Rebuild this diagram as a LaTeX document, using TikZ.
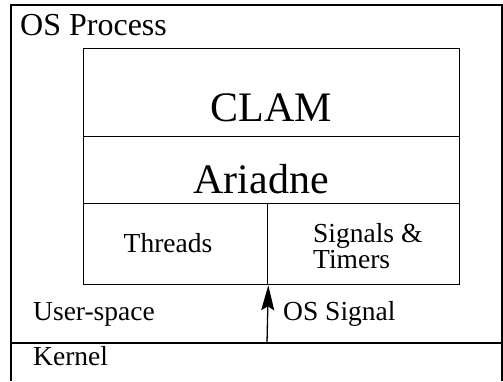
\documentclass[tikz,border=0pt]{standalone}
\usepackage{fontspec}
\setmainfont{Liberation Serif}
\usetikzlibrary{arrows.meta}
\begin{document}
\begin{tikzpicture}[x=1pt,y=-1pt,
  frame/.style={line width=2pt},
  cell/.style={draw, line width=1.3pt, inner sep=0pt, anchor=north west},
  small/.style={font=\fontsize{27.5}{30}\selectfont, inner sep=0pt},
  big/.style={font=\fontsize{42}{46}\selectfont, inner sep=0pt}]
\useasboundingbox (0,0) rectangle (503,381);
% outer frame
\draw[frame] (11,381) -- (11,5) -- (502,5) -- (502,381);
\coordinate (kl) at (11,343);
\coordinate (kr) at (502,343);
\draw[line width=1.5pt] (kl) -- (kr);
% cells
\node[cell, minimum width=376pt, minimum height=88pt] (clam) at (83,48) {};
\node[cell, minimum width=376pt, minimum height=67pt] (ariadne) at (83,136) {};
\node[cell, minimum width=184pt, minimum height=81pt] (threads) at (83,203) {};
\node[cell, minimum width=192pt, minimum height=81pt] (signals) at (267,203) {};
% texts
\node[font=\fontsize{32}{36}\selectfont, inner sep=0pt, anchor=base west] (osp) at (20,35) {OS Process};
\node[big, anchor=base] (clamt) at (271,121) {CLAM};
\node[big, anchor=base] (ariadnet) at (261,193) {Ariadne};
\node[small, anchor=base] (threadst) at (168,252) {Threads};
\node[small, anchor=base west, align=left] (sig1) at (313,242) {Signals \&};
\node[small, anchor=base west] (sig2) at (313,268) {Timers};
\node[small, anchor=base west] (user) at (33,320) {User-space};
\node[small, anchor=base west] (kern) at (33,365) {Kernel};
\node[small, anchor=base west] (oss) at (283,320) {OS Signal};
% arrow
\coordinate (a0) at (267,343);
\draw[line width=1.3pt, -{Stealth[length=25pt,width=13pt,inset=4pt]}] (a0) -- (threads.south east);
\end{tikzpicture}
\end{document}
